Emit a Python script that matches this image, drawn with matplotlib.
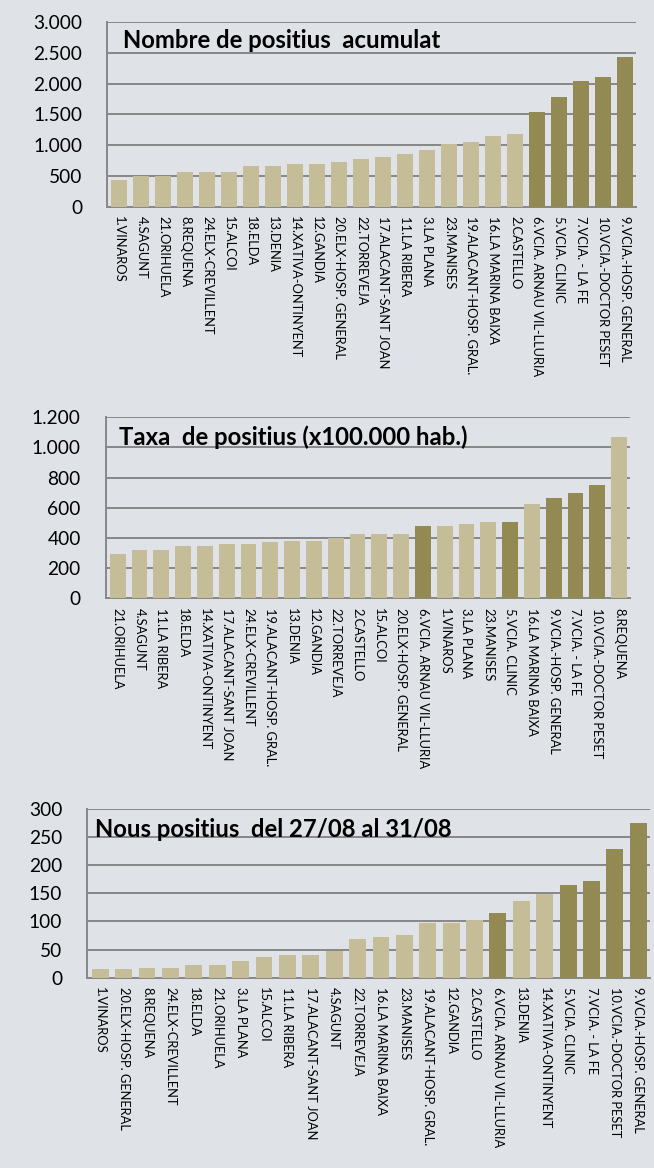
import matplotlib.pyplot as plt
from matplotlib.ticker import FuncFormatter, MultipleLocator

plt.rcParams['font.family'] = ['Lato', 'DejaVu Sans']

BG = '#dfe3e7'
LIGHT = '#c4bd97'
DARK = '#938953'
GRID = '#878787'

# Nombre de positius acumulat
names_acum = ['1.VINAROS', '4.SAGUNT', '21.ORIHUELA', '8.REQUENA', '24.ELX-CREVILLENT',
              '15.ALCOI', '18.ELDA', '13.DENIA', '14.XATIVA-ONTINYENT', '12.GANDIA',
              '20.ELX-HOSP. GENERAL', '22.TORREVEJA', '17.ALACANT-SANT JOAN', '11.LA RIBERA',
              '3.LA PLANA', '23.MANISES', '19.ALACANT-HOSP. GRAL.', '16.LA MARINA BAIXA',
              '2.CASTELLO', '6.VCIA. ARNAU VIL-LLURIA', '5.VCIA. CLINIC', '7.VCIA. - LA FE',
              '10.VCIA.-DOCTOR PESET', '9.VCIA.-HOSP. GENERAL']
vals_acum = [433, 494, 494, 567, 567, 567, 667, 667, 700, 700, 733, 767, 800, 857,
             923, 1022, 1055, 1154, 1187, 1544, 1775, 2044, 2104, 2429]

# Taxa de positius (x100.000 hab.)
names_taxa = ['21.ORIHUELA', '4.SAGUNT', '11.LA RIBERA', '18.ELDA', '14.XATIVA-ONTINYENT',
              '17.ALACANT-SANT JOAN', '24.ELX-CREVILLENT', '19.ALACANT-HOSP. GRAL.', '13.DENIA',
              '12.GANDIA', '22.TORREVEJA', '2.CASTELLO', '15.ALCOI', '20.ELX-HOSP. GENERAL',
              '6.VCIA. ARNAU VIL-LLURIA', '1.VINAROS', '3.LA PLANA', '23.MANISES',
              '5.VCIA. CLINIC', '16.LA MARINA BAIXA', '9.VCIA.-HOSP. GENERAL', '7.VCIA. - LA FE',
              '10.VCIA.-DOCTOR PESET', '8.REQUENA']
vals_taxa = [292, 319, 319, 345, 345, 358, 358, 371, 382, 382, 397, 423, 423, 424,
             477, 477, 490, 503, 503, 622, 662, 701, 754, 1068]

# Nous positius del 27/08 al 31/08
names_nous = ['1.VINAROS', '20.ELX-HOSP. GENERAL', '8.REQUENA', '24.ELX-CREVILLENT', '18.ELDA',
              '21.ORIHUELA', '3.LA PLANA', '15.ALCOI', '11.LA RIBERA', '17.ALACANT-SANT JOAN',
              '4.SAGUNT', '22.TORREVEJA', '16.LA MARINA BAIXA', '23.MANISES',
              '19.ALACANT-HOSP. GRAL.', '12.GANDIA', '2.CASTELLO', '6.VCIA. ARNAU VIL-LLURIA',
              '13.DENIA', '14.XATIVA-ONTINYENT', '5.VCIA. CLINIC', '7.VCIA. - LA FE',
              '10.VCIA.-DOCTOR PESET', '9.VCIA.-HOSP. GENERAL']
vals_nous = [15, 15, 18, 18, 22, 22, 30, 36, 40, 40, 48, 68, 72, 76,
             98, 98, 102, 115, 137, 148, 165, 172, 229, 275]

W, H = 654, 1168
fig = plt.figure(figsize=(W / 100, H / 100), dpi=100, facecolor=BG)


def px_rect(left, right, top, bottom):
    return [left / W, 1 - bottom / H, (right - left) / W, (bottom - top) / H]


def panel(rect, names, vals, ymax, step, title, tx, ty):
    ax = fig.add_axes(rect)
    ax.set_facecolor(BG)
    x = range(len(names))
    colors = [DARK if 'VCIA' in n else LIGHT for n in names]
    ax.bar(x, vals, width=0.72, color=colors, zorder=3)
    ax.set_xlim(-0.55, len(names) - 0.5)
    ax.set_ylim(0, ymax)
    ax.yaxis.set_major_locator(MultipleLocator(step))
    ax.yaxis.set_major_formatter(FuncFormatter(lambda v, p: f'{v:,.0f}'.replace(',', '.')))
    ax.grid(axis='y', color=GRID, lw=1.4, zorder=0)
    ax.set_axisbelow(True)
    for s in ['top', 'right']:
        ax.spines[s].set_visible(False)
    for s in ['left', 'bottom']:
        ax.spines[s].set_color(GRID)
        ax.spines[s].set_linewidth(1.4)
    ax.set_xticks(list(x))
    ax.set_xticklabels(names, rotation=270, fontsize=9.3, ha='center', va='top')
    ax.tick_params(axis='x', length=0, pad=7)
    ax.tick_params(axis='y', length=0, pad=18, labelsize=13.8)
    ax.text(tx, ty, title, transform=ax.transAxes, fontsize=17.2, fontweight='bold',
            ha='left', va='baseline', zorder=5)
    return ax


panel(px_rect(107.3, 636, 22, 206.7), names_acum, vals_acum, 3000, 500,
      'Nombre de positius  acumulat', 0.03, 0.859)
panel(px_rect(105.7, 630, 417.3, 598.3), names_taxa, vals_taxa, 1200, 200,
      'Taxa  de positius (x100.000 hab.)', 0.025, 0.847)
panel(px_rect(87.3, 650, 809, 977.7), names_nous, vals_nous, 300, 50,
      'Nous positius  del 27/08 al 31/08', 0.014, 0.832)

fig.savefig('out.png', dpi=100, facecolor=BG)
